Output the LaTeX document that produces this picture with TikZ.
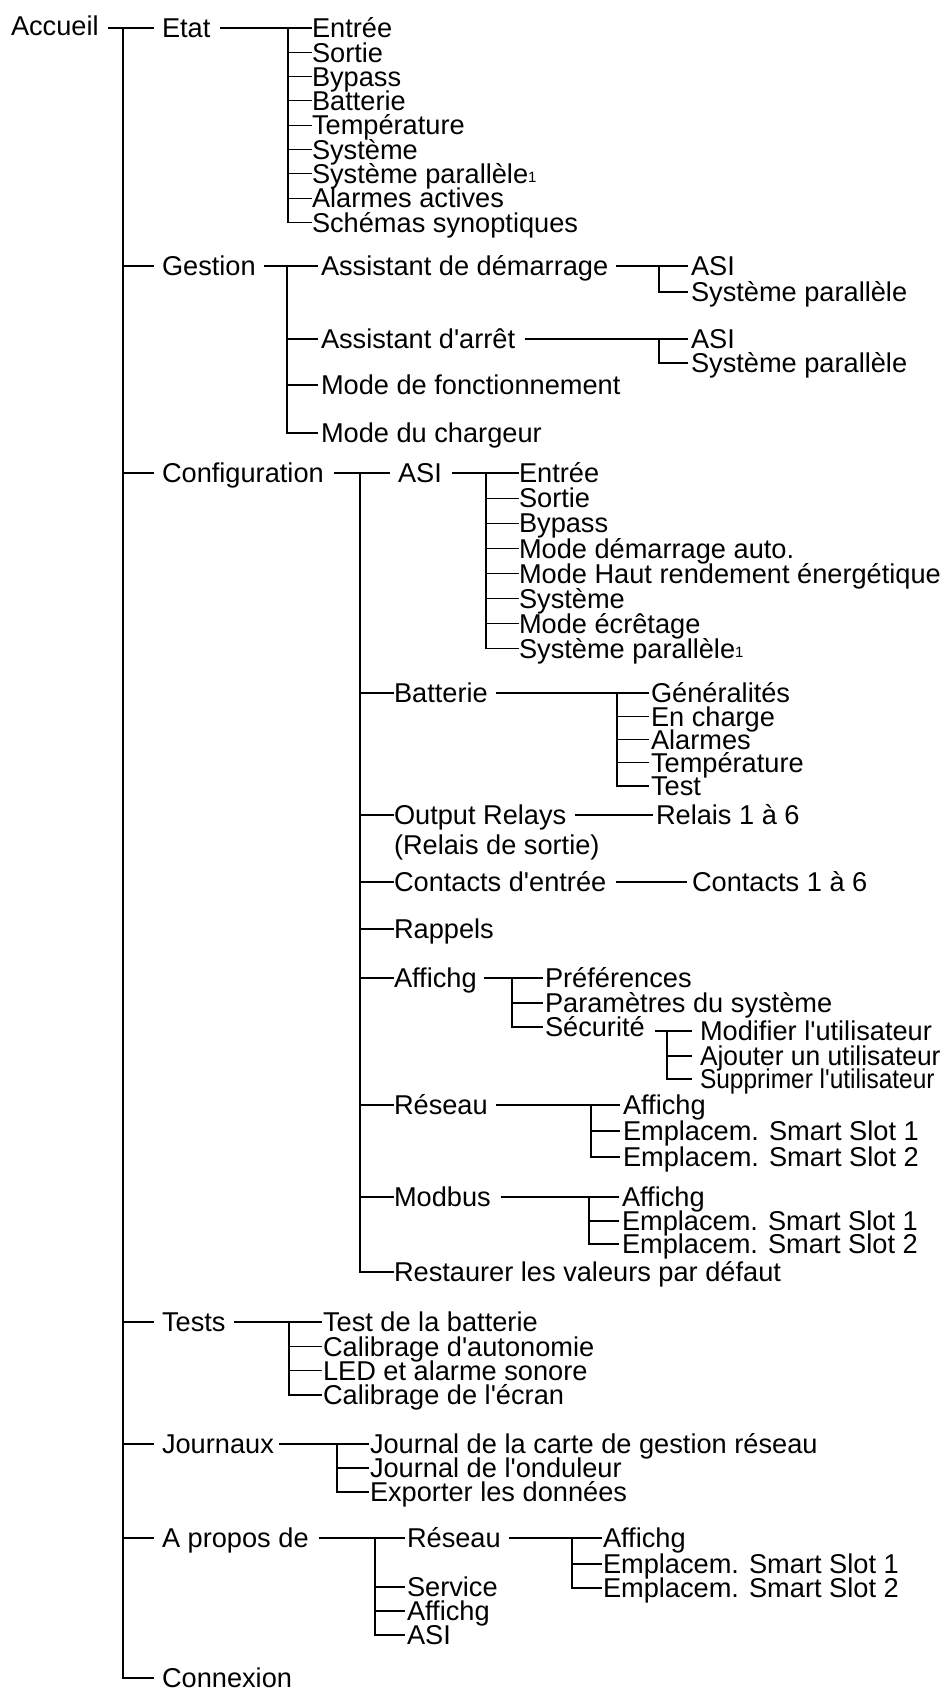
\documentclass[tikz,border=0pt]{standalone}
\usepackage{fontspec}
\usepackage{graphicx}
\newfontfamily\lbf{Liberation Sans}
\newcommand\supone{\raisebox{1pt}{\fontsize{15}{15}\selectfont 1}}
\tikzset{
  lbl/.style={anchor=west, inner sep=0pt, outer sep=0pt, text height=19.5pt, text depth=0pt,
    font=\lbf\fontsize{27.2}{30}\selectfont},
  ln/.style={line width=1.2pt, draw=black}
}
\begin{document}
\begin{tikzpicture}[x=1pt,y=-1pt]
\useasboundingbox (0,0) rectangle (949,1691);
% ---------- level 0 / 1
\node[lbl] (acc) at (11,26) {Accueil};
\node[lbl] (etat) at (162,28) {Etat};
\node[lbl] (gest) at (162,266) {Gestion};
\node[lbl] (conf) at (162,473) {Configuration};
\node[lbl] (tests) at (162,1322) {Tests};
\node[lbl] (journ) at (162,1444) {Journaux};
\node[lbl] (apro) at (162,1538) {A propos de};
\node[lbl] (conn) at (162,1678) {Connexion};
\coordinate (bT) at (123,0);
\draw[ln] ([xshift=9]acc.east |- etat.west) -- ([xshift=-8]etat.west);
\draw[ln] (bT |- etat.west) |- ([xshift=-8]conn.west);
\foreach \n in {gest,conf,tests,journ,apro} \draw[ln] (bT |- \n.west) -- ([xshift=-8]\n.west);
% ---------- Etat
\foreach \t [count=\i from 0] in {Entrée,Sortie,Bypass,Batterie,Température,Système,Système parallèle\supone,Alarmes actives,Schémas synoptiques}
  \node[lbl] (e\i) at (312,28+24.3*\i) {\t};
\coordinate (bE) at (288,0);
\draw[ln] ([xshift=10]etat.east) -- (e0.west);
\draw[ln] (bE |- e0.west) |- (e8.west);
\foreach \i in {1,...,7} \draw[ln] (bE |- e\i.west) -- (e\i.west);
% ---------- Gestion
\node[lbl] (g0) at (321,266) {Assistant de démarrage};
\node[lbl] (g1) at (321,339) {Assistant d'arrêt};
\node[lbl] (g2) at (321,385) {Mode de fonctionnement};
\node[lbl] (g3) at (321,433) {Mode du chargeur};
\coordinate (bG) at (287,0);
\draw[ln] ([xshift=8]gest.east) -- ([xshift=-3]g0.west);
\draw[ln] (bG |- g0.west) |- ([xshift=-3]g3.west);
\foreach \i in {1,2} \draw[ln] (bG |- g\i.west) -- ([xshift=-3]g\i.west);
\node[lbl] (ga0) at (691,266) {ASI};
\node[lbl] (ga1) at (691,292) {Système parallèle};
\node[lbl] (gb0) at (691,339) {ASI};
\node[lbl] (gb1) at (691,363) {Système parallèle};
\coordinate (bGa) at (659,0);
\draw[ln] ([xshift=8]g0.east) -- ([xshift=-3]ga0.west);
\draw[ln] (bGa |- ga0.west) |- ([xshift=-3]ga1.west);
\draw[ln] ([xshift=10]g1.east) -- ([xshift=-3]gb0.west);
\draw[ln] (bGa |- gb0.west) |- ([xshift=-3]gb1.west);
% ---------- Configuration
\node[lbl] (c0) at (398,473) {ASI};
\node[lbl] (c1) at (394,693) {Batterie};
\node[lbl] (c2) at (394,815) {Output Relays};
\node[lbl] (c2b) at (394,845) {(Relais de sortie)};
\node[lbl] (c3) at (394,882) {Contacts d'entrée};
\node[lbl] (c4) at (394,929) {Rappels};
\node[lbl] (c5) at (394,978) {Affichg};
\node[lbl] (c6) at (394,1105) {Réseau};
\node[lbl] (c7) at (394,1197) {Modbus};
\node[lbl] (c8) at (394,1272) {Restaurer les valeurs par défaut};
\coordinate (bC) at (360,0);
\draw[ln] ([xshift=10]conf.east) -- ([xshift=-8]c0.west);
\draw[ln] (bC |- c0.west) |- (c8.west);
\foreach \i in {1,...,7} \draw[ln] (bC |- c\i.west) -- (c\i.west);
% ASI
\foreach \t [count=\i from 0] in {Entrée,Sortie,Bypass,Mode démarrage auto.,Mode Haut rendement énergétique,Système,Mode écrêtage,Système parallèle\supone}
  \node[lbl] (a\i) at (519,473+25.1*\i) {\t};
\coordinate (bA) at (486,0);
\draw[ln] ([xshift=10]c0.east) -- (a0.west);
\draw[ln] (bA |- a0.west) |- (a7.west);
\foreach \i in {1,...,6} \draw[ln] (bA |- a\i.west) -- (a\i.west);
% Batterie
\foreach \t [count=\i from 0] in {Généralités,En charge,Alarmes,Température,Test}
  \node[lbl] (b\i) at (651,693+23.25*\i) {\t};
\coordinate (bB) at (617,0);
\draw[ln] ([xshift=8]c1.east) -- ([xshift=-2]b0.west);
\draw[ln] (bB |- b0.west) |- ([xshift=-2]b4.west);
\foreach \i in {1,2,3} \draw[ln] (bB |- b\i.west) -- ([xshift=-2]b\i.west);
% Output relays / contacts
\node[lbl] (r0) at (656,815) {Relais 1 à 6};
\draw[ln] ([xshift=9]c2.east) -- ([xshift=-3]r0.west);
\node[lbl] (k0) at (692,882) {Contacts 1 à 6};
\draw[ln] ([xshift=10]c3.east) -- ([xshift=-5]k0.west);
% Affichg
\node[lbl] (d0) at (545,978) {Préférences};
\node[lbl] (d1) at (545,1003) {Paramètres du système};
\node[lbl] (d2) at (545,1027) {Sécurité};
\coordinate (bD) at (512,0);
\draw[ln] ([xshift=7]c5.east) -- ([xshift=-2]d0.west);
\draw[ln] (bD |- d0.west) |- ([xshift=-2]d2.west);
\draw[ln] (bD |- d1.west) -- ([xshift=-2]d1.west);
% Securite
\node[lbl] (s0) at (700,1031) {Modifier l'utilisateur};
\node[lbl] (s1) at (700,1056) {\scalebox{0.97}[1]{Ajouter un utilisateur}};
\node[lbl] (s2) at (700,1079) {\scalebox{0.9}[1]{Supprimer l'utilisateur}};
\coordinate (bS) at (667,0);
\draw[ln] ([xshift=10]d2.east |- s0.west) -- ([xshift=-8]s0.west);
\draw[ln] (bS |- s0.west) |- ([xshift=-8]s2.west);
\draw[ln] (bS |- s1.west) -- ([xshift=-8]s1.west);
% Reseau
\node[lbl] (n0) at (623,1105) {Affichg};
\node[lbl] (n1) at (623,1131) {Emplacem. Smart Slot 1};
\node[lbl] (n2) at (623,1157) {Emplacem. Smart Slot 2};
\coordinate (bN) at (591,0);
\draw[ln] ([xshift=8]c6.east) -- ([xshift=-3]n0.west);
\draw[ln] (bN |- n0.west) |- ([xshift=-3]n2.west);
\draw[ln] (bN |- n1.west) -- ([xshift=-3]n1.west);
% Modbus
\node[lbl] (m0) at (622,1197) {Affichg};
\node[lbl] (m1) at (622,1221) {Emplacem. Smart Slot 1};
\node[lbl] (m2) at (622,1244) {Emplacem. Smart Slot 2};
\coordinate (bM) at (589,0);
\draw[ln] ([xshift=10]c7.east) -- ([xshift=-3]m0.west);
\draw[ln] (bM |- m0.west) |- ([xshift=-3]m2.west);
\draw[ln] (bM |- m1.west) -- ([xshift=-3]m1.west);
% ---------- Tests
\foreach \t [count=\i from 0] in {Test de la batterie,Calibrage d'autonomie,LED et alarme sonore,Calibrage de l'écran}
  \node[lbl] (t\i) at (323,1322+24.3*\i) {\t};
\coordinate (bTe) at (289,0);
\draw[ln] ([xshift=9]tests.east) -- ([xshift=-1]t0.west);
\draw[ln] (bTe |- t0.west) |- ([xshift=-1]t3.west);
\foreach \i in {1,2} \draw[ln] (bTe |- t\i.west) -- ([xshift=-1]t\i.west);
% ---------- Journaux
\foreach \t [count=\i from 0] in {Journal de la carte de gestion réseau,Journal de l'onduleur,Exporter les données}
  \node[lbl] (j\i) at (370,1444+24*\i) {\t};
\coordinate (bJ) at (337,0);
\draw[ln] ([xshift=5]journ.east) -- ([xshift=-1]j0.west);
\draw[ln] (bJ |- j0.west) |- ([xshift=-1]j2.west);
\draw[ln] (bJ |- j1.west) -- ([xshift=-1]j1.west);
% ---------- A propos de
\node[lbl] (p0) at (407,1538) {Réseau};
\node[lbl] (p1) at (407,1587) {Service};
\node[lbl] (p2) at (407,1611) {Affichg};
\node[lbl] (p3) at (407,1635) {ASI};
\coordinate (bP) at (375,0);
\draw[ln] ([xshift=10]apro.east) -- ([xshift=-2]p0.west);
\draw[ln] (bP |- p0.west) |- ([xshift=-2]p3.west);
\foreach \i in {1,2} \draw[ln] (bP |- p\i.west) -- ([xshift=-2]p\i.west);
\node[lbl] (q0) at (603,1538) {Affichg};
\node[lbl] (q1) at (603,1564) {Emplacem. Smart Slot 1};
\node[lbl] (q2) at (603,1588) {Emplacem. Smart Slot 2};
\coordinate (bQ) at (572,0);
\draw[ln] ([xshift=8]p0.east) -- ([xshift=-1]q0.west);
\draw[ln] (bQ |- q0.west) |- ([xshift=-1]q2.west);
\draw[ln] (bQ |- q1.west) -- ([xshift=-1]q1.west);
\end{tikzpicture}
\end{document}
